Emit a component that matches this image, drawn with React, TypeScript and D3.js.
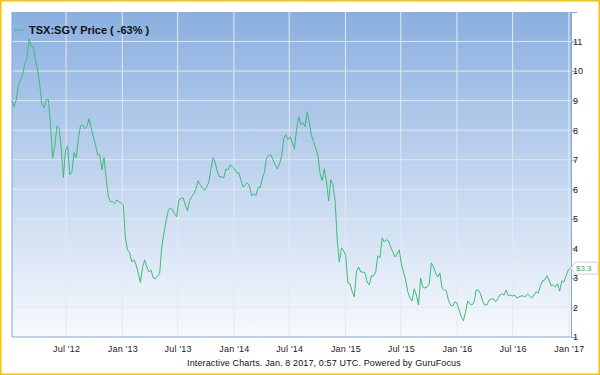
import React, { useRef, useEffect } from "react";
import {
  select,
  scaleTime,
  scaleLinear,
  axisBottom,
  axisRight,
  line,
  timeDay,
  timeMonth,
  timeFormat,
} from "d3";

// weekly closes, TSX:SGY, first week ending 2012-01-06
const startDate = new Date(2012, 0, 6);
const prices = [
  9.0, 8.8, 9.03, 9.54, 9.71, 9.88, 10.25, 10.42, 11.1, 10.83,
  10.83, 10.36, 10.05, 9.51, 8.87, 8.76, 9.03, 9.03, 8.19, 7.05,
  7.47, 8.15, 8.08, 7.41, 6.4, 7.3, 7.47, 6.49, 6.59, 7.24,
  7.07, 7.68, 8.15, 8.19, 8.05, 8.12, 8.39, 8.08, 7.78, 7.51,
  7.17, 7.17, 6.66, 7.07, 6.39, 5.75, 5.58, 5.58, 5.51, 5.64,
  5.58, 5.54, 5.47, 4.36, 3.95, 3.85, 3.54, 3.61, 3.44, 3.17,
  2.85, 3.35, 3.61, 3.37, 3.2, 3.27, 3.0, 2.97, 3.07, 3.14,
  4.05, 4.49, 4.93, 5.27, 5.37, 5.31, 5.17, 5.07, 5.64, 5.68,
  5.71, 5.47, 5.27, 5.61, 5.75, 5.85, 6.02, 6.29, 6.15, 6.05,
  5.95, 6.08, 6.25, 6.69, 7.07, 6.9, 6.59, 6.42, 6.42, 6.39,
  6.69, 6.66, 6.83, 6.76, 6.69, 6.56, 6.56, 6.32, 6.08, 6.15,
  6.22, 6.12, 5.78, 5.85, 5.78, 6.05, 6.05, 6.36, 6.59, 7.07,
  7.14, 7.17, 7.0, 6.83, 6.69, 6.86, 7.1, 7.71, 7.85, 7.68,
  7.78, 7.58, 7.37, 8.02, 8.46, 8.19, 8.25, 8.12, 8.63, 8.25,
  7.81, 7.61, 7.37, 7.14, 6.53, 6.29, 6.69, 6.25, 5.6, 6.32,
  6.15, 5.64, 4.29, 3.54, 4.02, 3.92, 3.75, 2.83, 2.8, 2.53,
  2.36, 3.2, 3.37, 3.2, 3.2, 3.17, 2.86, 2.76, 3.07, 3.07,
  3.2, 3.75, 3.68, 4.36, 4.22, 4.29, 4.25, 4.05, 3.88, 3.71,
  3.81, 3.95, 3.47, 3.2, 2.93, 2.53, 2.32, 2.22, 2.63, 2.42,
  2.08, 3.0, 2.69, 2.66, 2.69, 2.8, 3.51, 3.37, 3.17, 3.03,
  3.17, 2.66, 2.59, 2.56, 2.25, 2.08, 2.05, 2.19, 2.15, 1.92,
  1.68, 1.55, 1.85, 2.22, 2.12, 2.08, 2.19, 2.59, 2.59, 2.46,
  2.22, 2.08, 2.08, 2.25, 2.29, 2.29, 2.19, 2.29, 2.42, 2.46,
  2.42, 2.59, 2.39, 2.42, 2.39, 2.42, 2.32, 2.36, 2.39, 2.39,
  2.36, 2.46, 2.39, 2.32, 2.42, 2.53, 2.49, 2.73, 2.9, 2.93,
  3.07, 2.93, 2.73, 2.76, 2.69, 2.8, 2.55, 2.9, 2.86, 3.07,
  3.27, 3.33,
];
const yTicks = [1, 2, 3, 4, 5, 6, 7, 8, 9, 10, 11, 12];
const legendLabel = "TSX:SGY Price ( -63% )";
const lastLabel = "$3.3";
const footer = "Interactive Charts. Jan. 8 2017, 0:57 UTC. Powered by GuruFocus";

const W = 600;
const H = 375;
const left = 12;
const right = 571;
const top = 12;
const bottom = 337;
const font = "'Liberation Sans', Arial, sans-serif";
const green = "#3dbb7a";
const axisBlue = "#7fa7da";

function App() {
  const svgRef = useRef(null);

  useEffect(() => {
    const svg = select(svgRef.current);
    const data = prices.map((p, i) => ({ date: timeDay.offset(startDate, i * 7), price: p }));

    const xScale = scaleTime()
      .domain([new Date(2012, 0, 6), new Date(2017, 0, 8)])
      .range([left, right]);
    const yScale = scaleLinear().domain([1, 12]).range([bottom, top]);
    const xTicks = xScale.ticks(timeMonth.every(6));

    // grid
    svg
      .select(".grid")
      .selectAll(".h")
      .data(yTicks.slice(1, -1))
      .join("line")
      .attr("class", "h")
      .attr("x1", left)
      .attr("x2", right)
      .attr("y1", (d) => yScale(d))
      .attr("y2", (d) => yScale(d))
      .attr("stroke", "#e3e9f1")
      .attr("stroke-width", 1);
    svg
      .select(".grid")
      .selectAll(".v")
      .data(xTicks)
      .join("line")
      .attr("class", "v")
      .attr("x1", (d) => xScale(d))
      .attr("x2", (d) => xScale(d))
      .attr("y1", top)
      .attr("y2", bottom)
      .attr("stroke", "#e3e9f1")
      .attr("stroke-width", 1);

    // axes
    const xAxis = axisBottom(xScale)
      .tickValues(xTicks)
      .tickSize(0)
      .tickPadding(9)
      .tickFormat(timeFormat("%b '%y"));
    const xg = svg.select(".x-axis").attr("transform", `translate(0,${bottom})`).call(xAxis);
    xg.select(".domain").remove();
    xg.selectAll("text")
      .attr("font-size", 9)
      .attr("font-family", font)
      .attr("letter-spacing", 0.2)
      .attr("fill", "#222");

    const yAxis = axisRight(yScale)
      .tickValues(yTicks)
      .tickSize(6)
      .tickPadding(-4)
      .tickFormat((d) => (d === 12 ? "" : String(d)));
    const yg = svg.select(".y-axis").attr("transform", `translate(${right},0)`).call(yAxis);
    yg.select(".domain").attr("stroke", axisBlue);
    yg.selectAll("line").attr("stroke", axisBlue);
    yg.selectAll("text").attr("font-size", 9).attr("font-family", font).attr("fill", "#222");

    // price line
    const priceLine = line()
      .x((d) => xScale(d.date))
      .y((d) => yScale(d.price));
    svg
      .select(".series")
      .selectAll("path")
      .data([data])
      .join("path")
      .attr("d", priceLine)
      .attr("fill", "none")
      .attr("stroke", green)
      .attr("stroke-width", 1)
      .attr("stroke-linejoin", "round");

    // last price tag
    const last = data[data.length - 1];
    const ly = yScale(last.price);
    const tag = svg.select(".tag");
    tag
      .selectAll("path")
      .data([ly])
      .join("path")
      .attr("d", (d) => `M${right},${d} L${right + 4},${d - 6} H${W - 2} V${d + 6} H${right + 4} Z`)
      .attr("fill", "rgba(255,255,255,0.85)")
      .attr("stroke", "#cfcfcf")
      .attr("stroke-width", 1);
    tag
      .selectAll("text")
      .data([ly])
      .join("text")
      .attr("x", right + 5)
      .attr("y", (d) => d + 3)
      .attr("font-size", 8)
      .attr("font-family", font)
      .attr("fill", "#2fb36b")
      .text(lastLabel);
  }, []);

  return (
    <svg ref={svgRef} width={W} height={H} style={{ position: "absolute", left: 0, top: 0 }}>
      <defs>
        <linearGradient id="bg" x1="0" y1="0" x2="0" y2="1">
          <stop offset="0%" stopColor="#8ab0e0" />
          <stop offset="100%" stopColor="#f7f9fd" />
        </linearGradient>
      </defs>
      <rect x={0} y={0} width={W} height={H} fill="#fff" />
      <rect x={left} y={top} width={right - left} height={bottom - top} fill="url(#bg)" />
      <g className="grid" />
      <line x1={left} x2={left} y1={top} y2={bottom} stroke={axisBlue} />
      <line x1={left} x2={right} y1={bottom} y2={bottom} stroke={axisBlue} />
      <g className="x-axis" />
      <g className="y-axis" />
      <g className="series" />
      <g className="tag" />
      <line x1={14} x2={24} y1={30} y2={30} stroke={green} strokeWidth={1} />
      <text x={29} y={34} fontSize={11} fontWeight="bold" fontFamily={font} fill="#111">
        {legendLabel}
      </text>
      <text x={187} y={366} fontSize={9} fontFamily={font} letterSpacing={0.13} fill="#111">
        {footer}
      </text>
      <rect x={0.75} y={0.75} width={W - 1.5} height={H - 1.5} fill="none" stroke="#f5c400" strokeWidth={1.5} />
    </svg>
  );
}

export default App;
